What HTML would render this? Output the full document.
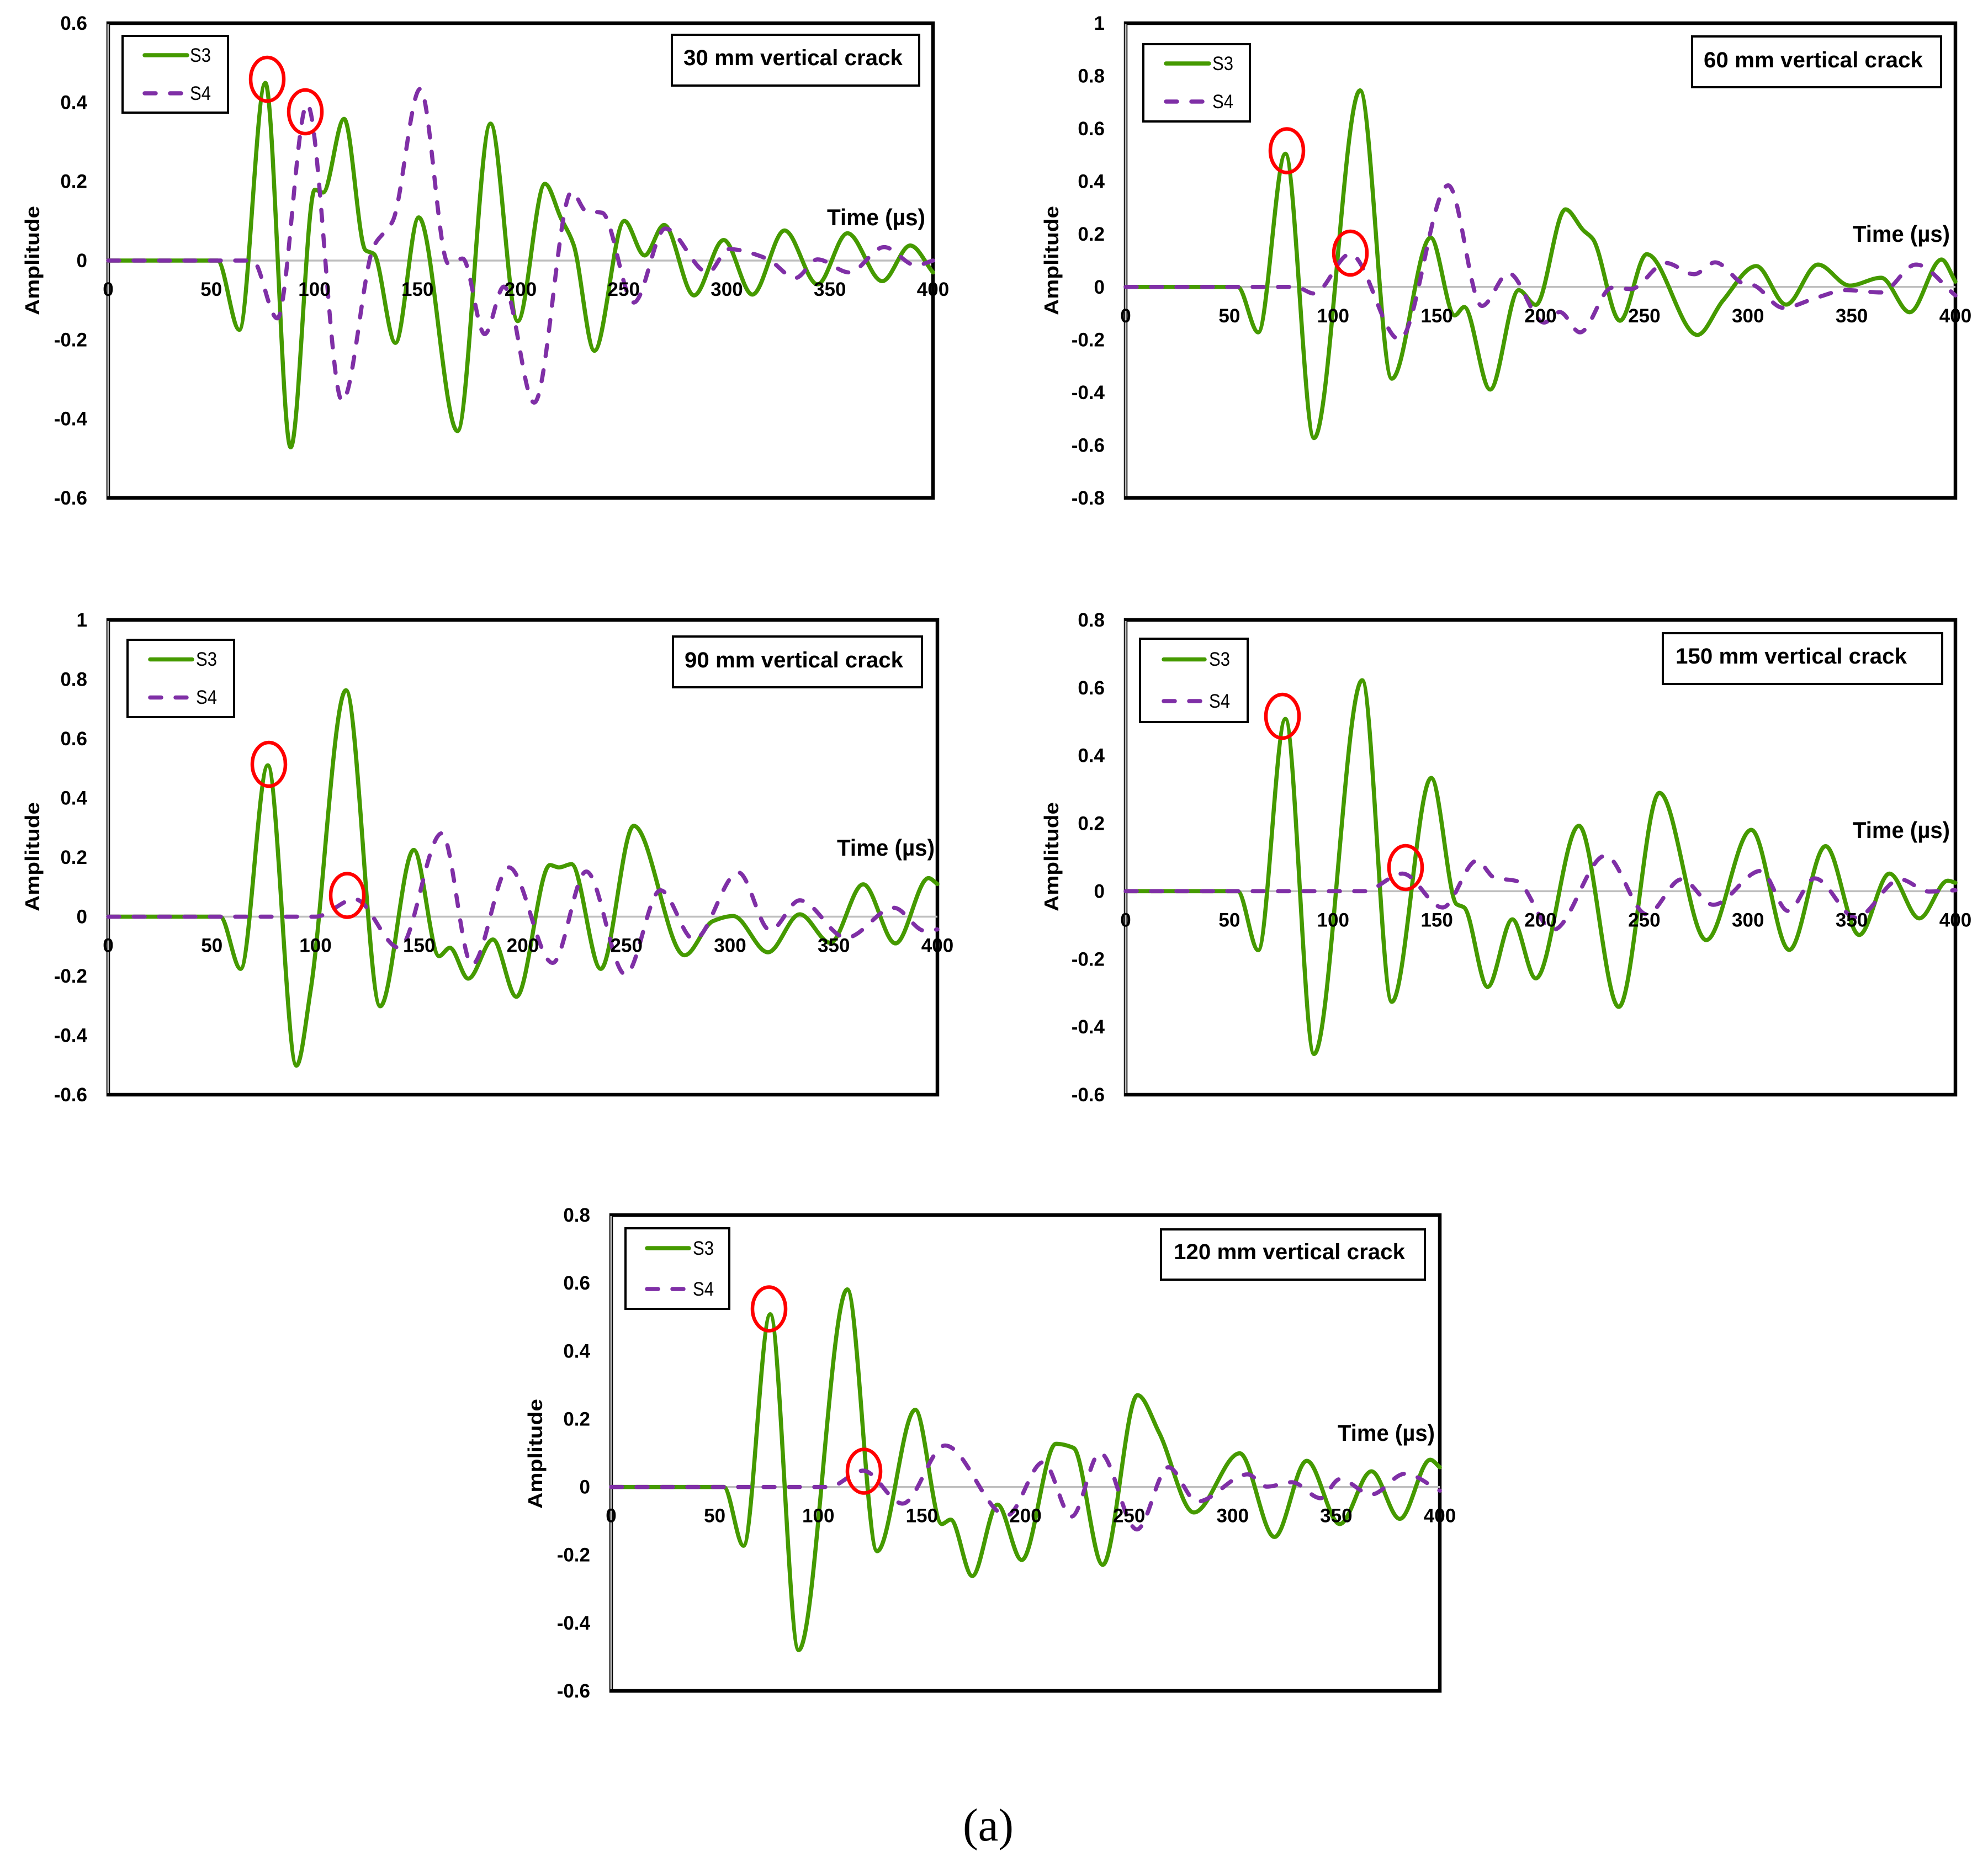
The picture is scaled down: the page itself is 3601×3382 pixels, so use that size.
<!DOCTYPE html>
<html lang="en">
<head>
<meta charset="utf-8">
<title>S3 and S4 signals for vertical cracks</title>
<style>
html,body{margin:0;padding:0;background:#fff;}
svg{display:block;}
text{font-family:"Liberation Sans",sans-serif;fill:#000;}
.tick{font-size:35px;font-weight:bold;}
.legend-text{font-size:35px;}
.title{font-size:40px;font-weight:bold;}
.time{font-size:42px;font-weight:bold;}
.amp{font-size:36px;font-weight:bold;}
.box{fill:#fff;stroke:#000;stroke-width:4;}
.s3{fill:none;stroke:#459a00;stroke-width:7.5;stroke-linecap:round;stroke-linejoin:round;}
.s4{fill:none;stroke:#7f2fa6;stroke-width:7.5;stroke-linecap:round;stroke-linejoin:round;stroke-dasharray:20 26;}
.ring{fill:none;stroke:#ff0000;stroke-width:6.5;}
</style>
</head>
<body>
<svg id="figure" xmlns="http://www.w3.org/2000/svg" width="3601" height="3382" viewBox="0 0 3601 3382">
<rect x="0" y="0" width="3601" height="3382" fill="#fff"/>

<g id="panel-1">
  <g class="plot"></g>
  <rect class="box" x="222" y="65" width="191" height="139"/>
  <line class="s3" x1="262" y1="100" x2="339" y2="100"/>
  <text class="legend-text" x="344" y="112" textLength="38" lengthAdjust="spacingAndGlyphs">S3</text>
  <line class="s4" x1="262" y1="169" x2="336" y2="169"/>
  <text class="legend-text" x="344" y="181" textLength="38" lengthAdjust="spacingAndGlyphs">S4</text>
  <rect class="box" x="1217" y="63" width="448" height="92"/>
  <text class="title" x="1238" y="118" textLength="397" lengthAdjust="spacingAndGlyphs">30 mm vertical crack</text>
  <text class="time" x="1498" y="408" textLength="178" lengthAdjust="spacingAndGlyphs">Time (µs)</text>
  <text class="amp" transform="translate(71,571) rotate(-90)" textLength="198" lengthAdjust="spacingAndGlyphs">Amplitude</text>
  <ellipse class="ring" cx="484" cy="143.5" rx="30" ry="39.5"/>
  <ellipse class="ring" cx="553" cy="202.5" rx="30" ry="39.5"/>
</g>

<g id="panel-2">
  <g class="plot"></g>
  <rect class="box" x="2071" y="80" width="193" height="140"/>
  <line class="s3" x1="2112" y1="115" x2="2190" y2="115"/>
  <text class="legend-text" x="2196" y="127" textLength="38" lengthAdjust="spacingAndGlyphs">S3</text>
  <line class="s4" x1="2112" y1="184" x2="2186" y2="184"/>
  <text class="legend-text" x="2196" y="196" textLength="38" lengthAdjust="spacingAndGlyphs">S4</text>
  <rect class="box" x="3065" y="66" width="451" height="92"/>
  <text class="title" x="3086" y="122" textLength="397" lengthAdjust="spacingAndGlyphs">60 mm vertical crack</text>
  <text class="time" x="3356" y="438" textLength="176" lengthAdjust="spacingAndGlyphs">Time (µs)</text>
  <text class="amp" transform="translate(1917,571) rotate(-90)" textLength="198" lengthAdjust="spacingAndGlyphs">Amplitude</text>
  <ellipse class="ring" cx="2331" cy="273" rx="30" ry="39.5"/>
  <ellipse class="ring" cx="2446" cy="458.5" rx="30" ry="39.5"/>
</g>

<g id="panel-3">
  <g class="plot"></g>
  <rect class="box" x="231" y="1159" width="193" height="140"/>
  <line class="s3" x1="272" y1="1194.5" x2="348" y2="1194.5"/>
  <text class="legend-text" x="355" y="1206" textLength="38" lengthAdjust="spacingAndGlyphs">S3</text>
  <line class="s4" x1="272" y1="1263.5" x2="346" y2="1263.5"/>
  <text class="legend-text" x="355" y="1275" textLength="38" lengthAdjust="spacingAndGlyphs">S4</text>
  <rect class="box" x="1219" y="1153" width="451" height="92"/>
  <text class="title" x="1240" y="1209" textLength="396" lengthAdjust="spacingAndGlyphs">90 mm vertical crack</text>
  <text class="time" x="1516" y="1550" textLength="177" lengthAdjust="spacingAndGlyphs">Time (µs)</text>
  <text class="amp" transform="translate(71,1651) rotate(-90)" textLength="198" lengthAdjust="spacingAndGlyphs">Amplitude</text>
  <ellipse class="ring" cx="487" cy="1384.5" rx="30" ry="39.5"/>
  <ellipse class="ring" cx="629" cy="1622" rx="30" ry="39.5"/>
</g>

<g id="panel-4">
  <g class="plot"></g>
  <rect class="box" x="2065" y="1157" width="195" height="151"/>
  <line class="s3" x1="2108" y1="1194.5" x2="2182" y2="1194.5"/>
  <text class="legend-text" x="2190" y="1206" textLength="38" lengthAdjust="spacingAndGlyphs">S3</text>
  <line class="s4" x1="2108" y1="1270" x2="2180" y2="1270"/>
  <text class="legend-text" x="2190" y="1282" textLength="38" lengthAdjust="spacingAndGlyphs">S4</text>
  <rect class="box" x="3012" y="1147" width="506" height="92"/>
  <text class="title" x="3035" y="1202" textLength="419" lengthAdjust="spacingAndGlyphs">150 mm vertical crack</text>
  <text class="time" x="3356" y="1518" textLength="176" lengthAdjust="spacingAndGlyphs">Time (µs)</text>
  <text class="amp" transform="translate(1917,1651) rotate(-90)" textLength="198" lengthAdjust="spacingAndGlyphs">Amplitude</text>
  <ellipse class="ring" cx="2323" cy="1297.5" rx="30" ry="39.5"/>
  <ellipse class="ring" cx="2546" cy="1571.5" rx="30" ry="39.5"/>
</g>

<g id="panel-5">
  <g class="plot"></g>
  <rect class="box" x="1133" y="2225" width="188" height="146"/>
  <line class="s3" x1="1172" y1="2261" x2="1248" y2="2261"/>
  <text class="legend-text" x="1255" y="2273" textLength="38" lengthAdjust="spacingAndGlyphs">S3</text>
  <line class="s4" x1="1172" y1="2335" x2="1246" y2="2335"/>
  <text class="legend-text" x="1255" y="2347" textLength="38" lengthAdjust="spacingAndGlyphs">S4</text>
  <rect class="box" x="2103" y="2227" width="478" height="91"/>
  <text class="title" x="2126" y="2281" textLength="419" lengthAdjust="spacingAndGlyphs">120 mm vertical crack</text>
  <text class="time" x="2423" y="2610" textLength="176" lengthAdjust="spacingAndGlyphs">Time (µs)</text>
  <text class="amp" transform="translate(982,2733) rotate(-90)" textLength="199" lengthAdjust="spacingAndGlyphs">Amplitude</text>
  <ellipse class="ring" cx="1393" cy="2371" rx="30" ry="39.5"/>
  <ellipse class="ring" cx="1565" cy="2665" rx="30" ry="39.5"/>
</g>

<text x="1744" y="3334" style="font-family:'Liberation Serif',serif;font-size:84px" textLength="92" lengthAdjust="spacingAndGlyphs">(a)</text>
</svg>

<script>
const xTickLabels = ["0","50","100","150","200","250","300","350","400"];

const panel1YTicks = ["0.6","0.4","0.2","0","-0.2","-0.4","-0.6"];
const panel2YTicks = ["1","0.8","0.6","0.4","0.2","0","-0.2","-0.4","-0.6","-0.8"];
const panel3YTicks = ["1","0.8","0.6","0.4","0.2","0","-0.2","-0.4","-0.6"];
const panel4YTicks = ["0.8","0.6","0.4","0.2","0","-0.2","-0.4","-0.6"];
const panel5YTicks = ["0.8","0.6","0.4","0.2","0","-0.2","-0.4","-0.6"];

const panel1S3Time = [0,53,63.6,76.2,88.5,100.2,104.2,114.4,124.8,128.8,139.3,150.6,169.4,185.4,198.6,211.8,219.5,225.7,235.8,250.3,260.1,269.6,284.1,298.5,312.4,328,344,358.5,375.4,389,400];
const panel1S3 = [0,0,-0.175,0.449,-0.472,0.179,0.172,0.358,0.026,0.017,-0.208,0.109,-0.431,0.346,-0.153,0.194,0.108,0.04,-0.228,0.1,0.013,0.09,-0.088,0.052,-0.086,0.076,-0.06,0.069,-0.052,0.038,-0.03];
const panel1S4Time = [0,70,82,96.5,113.5,128.8,138,151.3,165,171.9,182.6,191.9,206.6,224.8,231.8,239.5,254.9,270.2,290.9,301,319.4,333.3,344,359.4,376.3,391.7,400];
const panel1S4 = [0,0,-0.146,0.395,-0.355,0.036,0.1,0.434,-0.008,0.005,-0.186,-0.066,-0.359,0.174,0.125,0.121,-0.106,0.081,-0.03,0.029,0.005,-0.044,0.003,-0.03,0.034,-0.012,0];

const panel2S3Time = [0,54,63.9,77,90.8,113,128.3,147,158.6,163.2,175.7,189.5,197.7,212,220.6,225.2,238.3,251.2,275.6,287.9,304,318.4,333.7,349,364.2,378,393.3,400];
const panel2S3 = [0,0,-0.172,0.505,-0.573,0.745,-0.348,0.187,-0.108,-0.076,-0.389,-0.012,-0.068,0.294,0.215,0.182,-0.128,0.124,-0.182,-0.052,0.079,-0.067,0.085,0.005,0.035,-0.096,0.104,0.02];
const panel2S4Time = [0,82,90.8,108.2,132,155.5,171.7,184.6,201.7,209.3,219,234.4,243.5,260.4,274,284.2,298.5,302,316.9,333.7,347.4,364.2,381,400];
const panel2S4 = [0,0,-0.025,0.125,-0.199,0.385,-0.072,0.052,-0.135,-0.095,-0.172,-0.003,-0.008,0.091,0.048,0.093,0.011,0.008,-0.079,-0.039,-0.012,-0.021,0.085,-0.032];

const panel3S3Time = [0,54,63.9,77,90.8,97.6,114.7,131.2,147.4,159.6,164.8,173.7,185.6,196.9,213.1,217.4,223.5,237.6,253.5,278,291.7,301.5,318.3,333.6,348.3,364.2,379.8,395.7,400];
const panel3S3 = [0,0,-0.176,0.51,-0.502,-0.25,0.763,-0.302,0.225,-0.133,-0.105,-0.209,-0.077,-0.27,0.174,0.166,0.177,-0.176,0.306,-0.13,-0.015,0.002,-0.12,0.008,-0.088,0.109,-0.09,0.13,0.11];
const panel3S4Time = [0,100,119,140.4,160.9,175.5,193.3,214.4,230.6,249.5,266.4,282.6,304,319.3,333.6,356,379,394,400];
const panel3S4 = [0,0,0.059,-0.105,0.281,-0.161,0.166,-0.156,0.152,-0.195,0.089,-0.077,0.149,-0.046,0.055,-0.071,0.03,-0.048,-0.043];

const panel4S3Time = [0,54,63.9,77,90.8,114,128.3,147.3,159.5,163.2,174.5,186.4,197.7,218.5,237.7,257.3,279.9,301.6,319.9,337.4,353.6,368.2,382.6,396.3,400];
const panel4S3 = [0,0,-0.174,0.508,-0.48,0.622,-0.326,0.334,-0.038,-0.048,-0.282,-0.083,-0.257,0.193,-0.341,0.29,-0.144,0.181,-0.173,0.133,-0.129,0.052,-0.08,0.031,0.025];
const panel4S4Time = [0,115,133.5,152.8,169.3,177.8,188.5,206,231.3,251.2,268,283.3,306.2,319.3,332.2,352,373.4,387.2,400];
const panel4S4 = [0,0,0.052,-0.048,0.09,0.04,0.03,-0.114,0.105,-0.068,0.035,-0.04,0.06,-0.058,0.038,-0.078,0.035,-0.001,0.003];

const panel5S3Time = [0,54.4,63.9,76.8,90.5,114,128.4,146.8,159.6,163.9,174.3,186.5,198.2,214.7,223.2,237.3,254.1,264.5,281.3,303.4,320.2,335.8,351.7,367,380.7,395.4,400];
const panel5S3 = [0,0,-0.173,0.508,-0.48,0.581,-0.189,0.227,-0.109,-0.096,-0.262,-0.052,-0.215,0.127,0.115,-0.229,0.27,0.16,-0.075,0.099,-0.147,0.077,-0.109,0.046,-0.094,0.08,0.058];
const panel5S4Time = [0,105,121.7,140.7,161.2,191,208.6,222.3,236,253.8,269,282.9,307.3,316.5,328.7,342.5,351.7,367,383.2,400];
const panel5S4 = [0,0,0.048,-0.049,0.122,-0.084,0.073,-0.087,0.1,-0.125,0.058,-0.043,0.037,0.001,0.014,-0.033,0.023,-0.022,0.039,-0.011];

const SVG_NS = "http://www.w3.org/2000/svg";

function xScale(box, t) { return box.left + (t / 400) * (box.right - box.left); }
function yScale(box, ticks, v) {
  const hi = parseFloat(ticks[0]);
  const lo = parseFloat(ticks[ticks.length - 1]);
  return box.top + ((hi - v) / (hi - lo)) * (box.bottom - box.top);
}

/* Monotone cubic path through the read extrema */
function smoothPath(box, ticks, times, values) {
  const n = times.length;
  const h = [], d = [], m = new Array(n).fill(0);
  for (let i = 0; i < n - 1; i++) {
    h[i] = times[i + 1] - times[i];
    d[i] = (values[i + 1] - values[i]) / h[i];
  }
  m[0] = d[0];
  m[n - 1] = d[n - 2];
  for (let i = 1; i < n - 1; i++) {
    if (d[i - 1] * d[i] <= 0) { m[i] = 0; continue; }
    const w1 = 2 * h[i] + h[i - 1], w2 = h[i] + 2 * h[i - 1];
    m[i] = (w1 + w2) / (w1 / d[i - 1] + w2 / d[i]);
  }
  let p = "M" + xScale(box, times[0]).toFixed(1) + " " + yScale(box, ticks, values[0]).toFixed(1);
  for (let i = 0; i < n - 1; i++) {
    const c1t = times[i] + h[i] / 3, c1v = values[i] + m[i] * h[i] / 3;
    const c2t = times[i + 1] - h[i] / 3, c2v = values[i + 1] - m[i + 1] * h[i] / 3;
    p += "C" + xScale(box, c1t).toFixed(1) + " " + yScale(box, ticks, c1v).toFixed(1) +
         " " + xScale(box, c2t).toFixed(1) + " " + yScale(box, ticks, c2v).toFixed(1) +
         " " + xScale(box, times[i + 1]).toFixed(1) + " " + yScale(box, ticks, values[i + 1]).toFixed(1);
  }
  return p;
}

function drawPanel(id, box, yTicks, s3Time, s3, s4Time, s4) {
  const plot = document.querySelector("#" + id + " .plot");
  const zeroY = yScale(box, yTicks, 0);

  const frame = document.createElementNS(SVG_NS, "rect");
  
  
  frame.setAttribute("x", box.left);
  frame.setAttribute("y", box.top);
  frame.setAttribute("width", box.right - box.left);
  frame.setAttribute("height", box.bottom - box.top);
  frame.setAttribute("fill", "#fff");
  frame.setAttribute("stroke", "#000");
  frame.setAttribute("stroke-width", "6.5");
  plot.appendChild(frame);

  const yAxis = document.createElementNS(SVG_NS, "line");
  
  
  yAxis.setAttribute("x1", box.left);
  yAxis.setAttribute("x2", box.left);
  yAxis.setAttribute("y1", box.top + 2);
  yAxis.setAttribute("y2", box.bottom - 3);
  yAxis.setAttribute("stroke", "#bfbfbf");
  yAxis.setAttribute("stroke-width", "3");
  plot.appendChild(yAxis);

  const xAxis = document.createElementNS(SVG_NS, "line");
  
  
  xAxis.setAttribute("x1", box.left);
  xAxis.setAttribute("x2", box.right);
  xAxis.setAttribute("y1", zeroY);
  xAxis.setAttribute("y2", zeroY);
  xAxis.setAttribute("stroke", "#bfbfbf");
  xAxis.setAttribute("stroke-width", "3.5");
  plot.appendChild(xAxis);

  const lineS3 = document.createElementNS(SVG_NS, "path");
  
  
  lineS3.setAttribute("class", "s3");
  lineS3.setAttribute("d", smoothPath(box, yTicks, s3Time, s3));
  plot.appendChild(lineS3);

  const lineS4 = document.createElementNS(SVG_NS, "path");
  
  
  lineS4.setAttribute("class", "s4");
  lineS4.setAttribute("d", smoothPath(box, yTicks, s4Time, s4));
  plot.appendChild(lineS4);

  for (let i = 0; i < yTicks.length; i++) {
    const label = document.createElementNS(SVG_NS, "text");
    
    
    label.setAttribute("class", "tick");
    label.setAttribute("text-anchor", "end");
    label.setAttribute("x", box.left - 38);
    label.setAttribute("y", yScale(box, yTicks, parseFloat(yTicks[i])) + 12);
    label.textContent = yTicks[i];
    plot.appendChild(label);
  }
  for (let i = 0; i < xTickLabels.length; i++) {
    const label = document.createElementNS(SVG_NS, "text");
    
    
    label.setAttribute("class", "tick");
    label.setAttribute("text-anchor", "middle");
    label.setAttribute("x", xScale(box, parseFloat(xTickLabels[i])));
    label.setAttribute("y", zeroY + 64);
    label.textContent = xTickLabels[i];
    plot.appendChild(label);
  }
}

drawPanel("panel-1", {left:196, right:1690, top:42, bottom:902}, panel1YTicks, panel1S3Time, panel1S3, panel1S4Time, panel1S4);
drawPanel("panel-2", {left:2039, right:3542, top:42, bottom:902}, panel2YTicks, panel2S3Time, panel2S3, panel2S4Time, panel2S4);
drawPanel("panel-3", {left:196, right:1698, top:1123, bottom:1983}, panel3YTicks, panel3S3Time, panel3S3, panel3S4Time, panel3S4);
drawPanel("panel-4", {left:2039, right:3542, top:1123, bottom:1983}, panel4YTicks, panel4S3Time, panel4S3, panel4S4Time, panel4S4);
drawPanel("panel-5", {left:1107, right:2608, top:2201, bottom:3063}, panel5YTicks, panel5S3Time, panel5S3, panel5S4Time, panel5S4);
</script>
</body>
</html>
